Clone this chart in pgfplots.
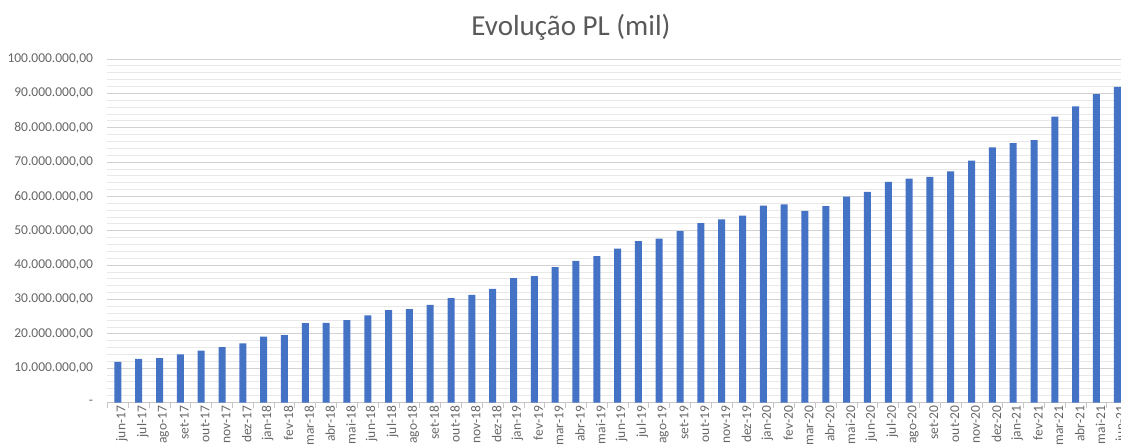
\documentclass[border=0pt]{standalone}
\usepackage{pgfplots}
\pgfplotsset{compat=1.18}
\usepackage{fontspec}
\setmainfont{Carlito}
\definecolor{barblue}{HTML}{4472C4}
\definecolor{txtgray}{HTML}{595959}
\definecolor{tickgray}{HTML}{666666}
\begin{document}
\begin{tikzpicture}
\begin{axis}[
  at={(0,0)}, anchor=south west,
  scale only axis,
  width=1020.2bp, height=343.5bp,
  xmin=-0.5, xmax=48.5, ymin=0, ymax=100,
  axis x line*=bottom, axis y line*=left,
  x axis line style={-, draw=gray!45, line width=0.8pt},
  y axis line style={draw=none},
  ybar, bar width=7bp,
  xtick={0,...,48},
  xticklabels={jun-17,jul-17,ago-17,set-17,out-17,nov-17,dez-17,jan-18,fev-18,mar-18,abr-18,mai-18,jun-18,jul-18,ago-18,set-18,out-18,nov-18,dez-18,jan-19,fev-19,mar-19,abr-19,mai-19,jun-19,jul-19,ago-19,set-19,out-19,nov-19,dez-19,jan-20,fev-20,mar-20,abr-20,mai-20,jun-20,jul-20,ago-20,set-20,out-20,nov-20,dez-20,jan-21,fev-21,mar-21,abr-21,mai-21,jun-21},
  minor xtick={-0.5,0.5,...,48.5},
  major tick length=0pt, minor tick length=5bp,
  tick align=outside,
  xtick style={draw=gray!45, line width=0.8pt},
  ytick={0,10,...,100},
  yticklabels={{-},{10.000.000,00},{20.000.000,00},{30.000.000,00},{40.000.000,00},{50.000.000,00},{60.000.000,00},{70.000.000,00},{80.000.000,00},{90.000.000,00},{100.000.000,00}},
  minor ytick={2,4,...,98},
  ytick style={draw=none},
  ymajorgrids, yminorgrids,
  major grid style={draw=gray!35, line width=0.8pt},
  minor grid style={draw=gray!18, line width=0.8pt},
  tick label style={font=\fontsize{13.5bp}{16bp}\selectfont, text=tickgray},
  xticklabel style={rotate=90, anchor=east, yshift=-4bp},
  yticklabel style={anchor=east, xshift=-11bp},
]
\addplot[fill=barblue, draw=none] coordinates {
(0,11.8) (1,12.7) (2,12.9) (3,14.0) (4,15.1) (5,16.1) (6,17.2) (7,19.2) (8,19.6) (9,23.1)
(10,23.2) (11,24.0) (12,25.4) (13,26.9) (14,27.2) (15,28.4) (16,30.4) (17,31.3) (18,33.1) (19,36.2)
(20,36.8) (21,39.4) (22,41.2) (23,42.6) (24,44.8) (25,47.0) (26,47.7) (27,49.9) (28,52.2) (29,53.3)
(30,54.4) (31,57.3) (32,57.7) (33,55.8) (34,57.2) (35,59.9) (36,61.3) (37,64.2) (38,65.2) (39,65.7)
(40,67.3) (41,70.4) (42,74.3) (43,75.5) (44,76.4) (45,83.2) (46,86.2) (47,89.8) (48,91.9)
};
\end{axis}
\node[text=txtgray, font=\fontsize{29bp}{33bp}\selectfont] at (463.5bp,375.5bp) {Evolução PL (mil)};
\pgfresetboundingbox
\path[use as bounding box] (-107.5bp,-42.5bp) rectangle (1013.5bp,402.5bp);
\end{tikzpicture}
\end{document}
